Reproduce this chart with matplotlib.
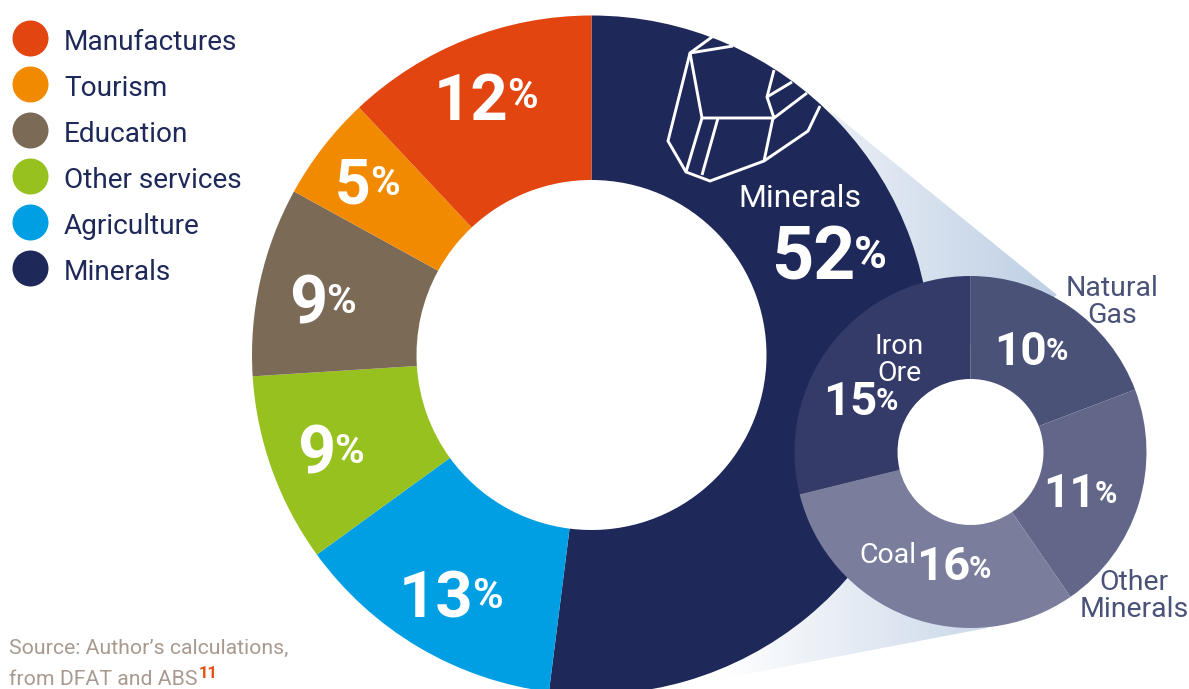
import numpy as np
import matplotlib
matplotlib.use("Agg")
import matplotlib.pyplot as plt
from matplotlib.colors import LinearSegmentedColormap
from matplotlib.patches import Circle, Polygon

W, H = 1189, 689

# Export shares, clockwise from twelve o'clock
export_names = ["Minerals", "Agriculture", "Other services", "Education", "Tourism", "Manufactures"]
export_shares = [52, 13, 9, 9, 5, 12]
export_colors = ["#1e2859", "#009fe3", "#97c11f", "#7b6a56", "#f28a00", "#e24510"]

# Breakdown of the minerals share
mineral_names = ["Natural\nGas", "Other\nMinerals", "Coal", "Iron\nOre"]
mineral_shares = [10, 11, 16, 15]
mineral_colors = ["#4a5278", "#62678a", "#7a7d9c", "#343b68"]

legend_names = ["Manufactures", "Tourism", "Education", "Other services", "Agriculture", "Minerals"]
legend_colors = ["#e24510", "#f28a00", "#7b6a56", "#97c11f", "#009fe3", "#1e2859"]

NAVY = "#1e2859"
SLATE = "#4a5278"
NUM_FONT = ["Roboto"]
TEXT_FONT = ["Roboto"]

fig = plt.figure(figsize=(W / 100, H / 100), dpi=100)
ax = fig.add_axes([0, 0, 1, 1])
ax.set_axis_off()


def Y(y):
    """Flip a top-down layout position into the upward axis."""
    return H - y


# Soft fan connecting the two rings; its inner outline stays under the ring bands
fan_outline = [(833, 113), (1057, 295), (970, 345), (880, 380), (870, 452), (880, 525),
               (970, 560), (987, 628), (710, 681), (770, 520), (800, 353), (780, 230)]
fan = Polygon([(x, Y(y)) for x, y in fan_outline], closed=True,
              transform=ax.transData, fc="none", ec="none")
ax.add_patch(fan)
fade = LinearSegmentedColormap.from_list("fade", ["#ffffff", "#bccde3"])
img = ax.imshow(np.linspace(0, 1, 256)[None, :], cmap=fade, extent=(720, 1065, 0, H),
                aspect="auto", zorder=1)
img.set_clip_path(fan)

ax.pie(export_shares, colors=export_colors, startangle=90, counterclock=False,
       center=(591.5, Y(355)), radius=339.5, frame=True,
       wedgeprops=dict(width=339.5 - 175, linewidth=0, zorder=2))
# The small ring sits over the large one, so its hole is opened with a white disc
ax.add_patch(Circle((970.5, Y(452)), 74, fc="white", ec="none", zorder=2.5))
ax.pie(mineral_shares, colors=mineral_colors, startangle=90, counterclock=False,
       center=(970.5, Y(452)), radius=176, frame=True,
       wedgeprops=dict(width=176 - 73, linewidth=0, zorder=3))

ax.set_xlim(0, W)
ax.set_ylim(0, H)
ax.set_aspect("auto")

# Line drawing of a mineral crystal on the large ring
crystal_edges = [
    [(712, 37), (690, 53), (668, 141), (686, 172), (710, 181), (764, 161), (808, 131), (820, 106)],
    [(690, 53), (733, 46)],
    [(690, 53), (702, 118), (773, 118), (764, 161)],
    [(702, 118), (686, 172)],
    [(718, 118), (702, 175)],
    [(774, 70), (767, 97), (774, 118), (807, 93)],
    [(767, 97), (792, 82)],
]
for edge in crystal_edges:
    xs, ys = zip(*edge)
    ax.plot(xs, [Y(v) for v in ys], color="white", lw=2.1, zorder=4,
            solid_joinstyle="miter", solid_capstyle="butt")


def share_label(value, x, baseline, size, pct_size, pct_base):
    """Write a bold number with a smaller percent sign beside it."""
    ax.text(x, Y(baseline), str(value), fontsize=size, family=NUM_FONT, weight="bold",
            color="white", ha="right", va="baseline", zorder=5)
    ax.text(x - 1, Y(pct_base), "%", fontsize=pct_size, family=NUM_FONT, weight="bold",
            color="white", ha="left", va="baseline", zorder=5)


share_label(export_shares[5], 508, 120, 47, 30, 108)
share_label(export_shares[4], 371, 203, 45, 29, 195)
share_label(export_shares[3], 327, 324, 48, 29, 313)
share_label(export_shares[2], 335, 473, 48, 29, 463)
share_label(export_shares[1], 473, 618, 47, 30, 608)
share_label(export_shares[0], 855, 280, 53, 32, 268)
share_label(mineral_shares[0], 1047, 365, 33, 22, 360)
share_label(mineral_shares[1], 1096, 507, 33, 22, 503)
share_label(mineral_shares[2], 970, 580, 34, 22, 578)
share_label(mineral_shares[3], 877, 415, 34, 22, 410)

# Category names on and around the rings
ax.text(800, Y(207), export_names[0], fontsize=23, family=TEXT_FONT,
        color="white", ha="center", va="baseline", zorder=5)
name_style = dict(fontsize=20.5, family=TEXT_FONT, ha="center", zorder=5,
                  va="baseline", linespacing=1.0)
ax.text(1112, Y(323), mineral_names[0], color=SLATE, **name_style)
ax.text(1134, Y(617), mineral_names[1], color=SLATE, **name_style)
ax.text(888, Y(563), mineral_names[2], color="white", **name_style)
ax.text(899, Y(381), mineral_names[3], color="white", **name_style)

# Legend column
legend_rows = [38, 84, 130, 176, 222, 268]
for name, color, row in zip(legend_names, legend_colors, legend_rows):
    ax.scatter([30], [Y(row)], s=(36 * 0.72) ** 2, color=color, linewidths=0, zorder=5)
    ax.text(64, Y(row + 1.5), name, fontsize=20.2, family=TEXT_FONT, color=NAVY,
            ha="left", va="center_baseline", zorder=5)

# Source note with footnote marker
source_style = dict(fontsize=15.3, family=TEXT_FONT, color="#a89a8f", ha="left", va="baseline")
ax.text(9, Y(654), "Source: Author\u2019s calculations,", **source_style)
ax.text(9, Y(685), "from DFAT and ABS", **source_style)
ax.text(199, Y(678), "11", fontsize=12, family=TEXT_FONT, weight="bold", color="#e2500f",
        ha="left", va="baseline")

fig.savefig("out.png", dpi=100)
